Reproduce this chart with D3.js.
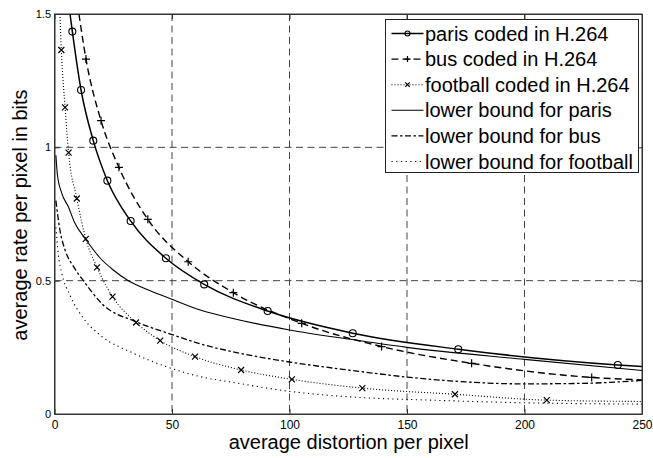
<!DOCTYPE html>
<html>
<head>
<meta charset="utf-8">
<script src="https://cdn.jsdelivr.net/npm/d3@7"></script>
<style>
  body { margin: 0; background: #fff; }
  text { font-family: "Liberation Sans", Arial, Helvetica, sans-serif; fill: #000; }
</style>
</head>
<body>
<div id="chart"></div>
<script>
// Chart data

// x values (average distortion per pixel) / y values (average rate, bits per pixel)
// first and last points of the coded series are line ends, the rest carry markers
var parisCodedD = [6.6, 7.6, 11.3, 16.5, 22.5, 32.4, 47.4, 63.7, 90.7, 126.9, 171.8, 239.7, 250];
var parisCodedR = [1.5, 1.434, 1.215, 1.025, 0.875, 0.724, 0.584, 0.486, 0.386, 0.303, 0.243, 0.184, 0.178];

var busCodedD = [10.4, 13.4, 19.8, 27.4, 39.7, 56.9, 76.1, 105.2, 139.2, 177.5, 228.6, 250];
var busCodedR = [1.5, 1.331, 1.10, 0.925, 0.73, 0.571, 0.455, 0.34, 0.253, 0.19, 0.137, 0.128];

var footCodedD = [2.3, 2.9, 4.5, 6.0, 9.5, 13.3, 18.1, 24.7, 34.7, 45.0, 59.8, 79.4, 101.0, 131.0, 170.4, 209.5, 250];
var footCodedR = [1.5, 1.365, 1.15, 0.98, 0.808, 0.657, 0.55, 0.44, 0.343, 0.275, 0.215, 0.165, 0.13, 0.097, 0.074, 0.052, 0.047];

var lbParisD = [0.6, 1.2, 3, 5.9, 8.7, 13, 19.4, 25, 31.4, 40, 50, 62, 75, 100, 125, 150, 200, 250];
var lbParisR = [0.97, 0.90, 0.83, 0.777, 0.715, 0.659, 0.585, 0.54, 0.50, 0.465, 0.43, 0.39, 0.36, 0.315, 0.281, 0.25, 0.205, 0.163];

var lbBusD = [0.6, 2.3, 4.5, 8.3, 12.3, 20, 35, 50, 62, 75, 100, 125, 160, 200, 225, 250];
var lbBusR = [0.80, 0.69, 0.615, 0.55, 0.50, 0.415, 0.345, 0.298, 0.263, 0.235, 0.195, 0.165, 0.13, 0.113, 0.115, 0.126];

var lbFootD = [0.6, 1.6, 3.1, 6.6, 12.3, 19.4, 33.5, 48.4, 62, 75, 100, 130, 160, 200, 250];
var lbFootR = [0.70, 0.60, 0.528, 0.445, 0.359, 0.296, 0.228, 0.175, 0.14, 0.12, 0.085, 0.062, 0.052, 0.042, 0.037];

var xTicks = [0, 50, 100, 150, 200, 250];
var yTicks = [0, 0.5, 1, 1.5];

var legendLabels = ["paris coded in H.264", "bus coded in H.264", "football coded in H.264",
                    "lower bound for paris", "lower bound for bus", "lower bound for football"];

// SVG dimensions
var svgWidth = 653;
var svgHeight = 458;

var plot = { left: 54.5, right: 642, top: 14, bottom: 414 };

var svg = d3.select("#chart")
  .append("svg")
  .attr("width", svgWidth)
  .attr("height", svgHeight);

// Scales
var xScale = d3.scaleLinear().domain([0, 250]).range([plot.left, plot.right]);
var yScale = d3.scaleLinear().domain([0, 1.5]).range([plot.bottom, plot.top]);

// Grid lines
var grid = svg.append("g");
grid.selectAll(".vgrid")
  .data(xTicks.slice(1, -1))
  .enter()
  .append("line")
  .attr("x1", d => xScale(d)).attr("x2", d => xScale(d))
  .attr("y1", plot.top).attr("y2", plot.bottom)
  .attr("stroke", "#444").attr("stroke-width", 1)
  .attr("stroke-dasharray", "7,4.5");
grid.selectAll(".hgrid")
  .data(yTicks.slice(1, -1))
  .enter()
  .append("line")
  .attr("x1", plot.left).attr("x2", plot.right)
  .attr("y1", d => yScale(d)).attr("y2", d => yScale(d))
  .attr("stroke", "#444").attr("stroke-width", 1)
  .attr("stroke-dasharray", "7,4.5");

// Axes (MATLAB style, ticks pointing inward)
var bottomAxis = d3.axisBottom(xScale).tickValues(xTicks).tickSizeInner(-5).tickSizeOuter(0).tickPadding(6.5);
var leftAxis = d3.axisLeft(yScale).tickValues(yTicks).tickSizeInner(-5).tickSizeOuter(0)
  .tickPadding(3.5).tickFormat(d3.format(""));
var topAxis = d3.axisTop(xScale).tickValues(xTicks).tickSizeInner(-5).tickSizeOuter(0).tickFormat("");
var rightAxis = d3.axisRight(yScale).tickValues(yTicks).tickSizeInner(-5).tickSizeOuter(0).tickFormat("");

var gx = svg.append("g").attr("transform", `translate(0,${plot.bottom})`).call(bottomAxis);
var gy = svg.append("g").attr("transform", `translate(${plot.left},0)`).call(leftAxis);
svg.append("g").attr("transform", `translate(0,${plot.top})`).call(topAxis);
svg.append("g").attr("transform", `translate(${plot.right},0)`).call(rightAxis);

svg.selectAll(".domain").attr("stroke", "#333");
svg.selectAll(".tick line").attr("stroke", "#333");
gx.selectAll("text").attr("font-size", "12px").attr("font-family", "Liberation Sans, Arial, sans-serif").attr("fill", "#000");
gy.selectAll("text").attr("font-size", "11px").attr("font-family", "Liberation Sans, Arial, sans-serif").attr("fill", "#000");

// Clip for the curves
svg.append("clipPath").attr("id", "plotclip")
  .append("rect")
  .attr("x", plot.left).attr("y", plot.top)
  .attr("width", plot.right - plot.left).attr("height", plot.bottom - plot.top);

var lineGen = d3.line()
  .x(d => xScale(d[0]))
  .y(d => yScale(d[1]))
  .curve(d3.curveMonotoneX);

function pairs(xs, ys) {
  return xs.map((x, i) => [x, ys[i]]);
}

var series = [
  { d: parisCodedD, r: parisCodedR, dash: null, width: 1.5, marker: "o" },
  { d: busCodedD, r: busCodedR, dash: "7,4", width: 1.4, marker: "+" },
  { d: footCodedD, r: footCodedR, dash: "1,2", width: 1.1, marker: "x" },
  { d: lbParisD, r: lbParisR, dash: null, width: 1.1, marker: null },
  { d: lbBusD, r: lbBusR, dash: "6,2.5,2.5,2.5", width: 1.3, marker: null },
  { d: lbFootD, r: lbFootR, dash: "1.2,3.5", width: 1.1, marker: null }
];

var curves = svg.append("g").attr("clip-path", "url(#plotclip)");

function drawMarker(g, type, size) {
  if (type === "o") {
    g.append("circle").attr("r", size).attr("fill", "none").attr("stroke", "#000").attr("stroke-width", 1.1);
  } else if (type === "+") {
    g.append("path").attr("d", `M${-size},0H${size}M0,${-size}V${size}`).attr("stroke", "#000").attr("stroke-width", 1.2);
  } else if (type === "x") {
    var s = size * 0.75;
    g.append("path").attr("d", `M${-s},${-s}L${s},${s}M${-s},${s}L${s},${-s}`).attr("stroke", "#000").attr("stroke-width", 1.2);
  }
}

series.forEach(function (s) {
  var pts = pairs(s.d, s.r);
  curves.append("path")
    .datum(pts)
    .attr("d", lineGen)
    .attr("fill", "none")
    .attr("stroke", "#000")
    .attr("stroke-width", s.width)
    .attr("stroke-dasharray", s.dash);

  if (s.marker) {
    var marks = curves.selectAll(null)
      .data(pts.slice(1, -1))
      .enter()
      .append("g")
      .attr("transform", d => `translate(${xScale(d[0])},${yScale(d[1])})`);
    marks.each(function () { drawMarker(d3.select(this), s.marker, s.marker === "o" ? 3.5 : 4); });
  }
});

// Frame
svg.append("rect")
  .attr("x", plot.left).attr("y", plot.top)
  .attr("width", plot.right - plot.left).attr("height", plot.bottom - plot.top)
  .attr("fill", "none").attr("stroke", "#333").attr("stroke-width", 1);

// Axis labels
svg.append("text")
  .attr("x", (plot.left + plot.right) / 2 + 0.5)
  .attr("y", 449)
  .attr("text-anchor", "middle")
  .attr("font-size", "20px")
  .text("average distortion per pixel");

svg.append("text")
  .attr("transform", "translate(27,215) rotate(-90)")
  .attr("text-anchor", "middle")
  .attr("font-size", "20px")
  .text("average rate per pixel in bits");

// Legend
var legend = svg.append("g");
legend.append("rect")
  .attr("x", 385.5).attr("y", 19.5)
  .attr("width", 253).attr("height", 153)
  .attr("fill", "#fff").attr("stroke", "#222").attr("stroke-width", 1);

var legendRows = legend.selectAll(".row")
  .data(series)
  .enter()
  .append("g")
  .attr("transform", (d, i) => `translate(0,${33.5 + i * 25.6})`);

legendRows.append("line")
  .attr("x1", 391.5).attr("x2", 423.5)
  .attr("y1", 0).attr("y2", 0)
  .attr("stroke", "#000")
  .attr("stroke-width", d => d.width)
  .attr("stroke-dasharray", d => d.dash);

legendRows.each(function (d) {
  if (d.marker) {
    var g = d3.select(this).append("g").attr("transform", "translate(407.5,0)");
    drawMarker(g, d.marker, d.marker === "o" ? 2.5 : 3);
  }
});

legendRows.append("text")
  .attr("x", 425)
  .attr("y", 0)
  .attr("dy", "0.35em")
  .attr("font-size", "20px")
  .text((d, i) => legendLabels[i]);
</script>
</body>
</html>
